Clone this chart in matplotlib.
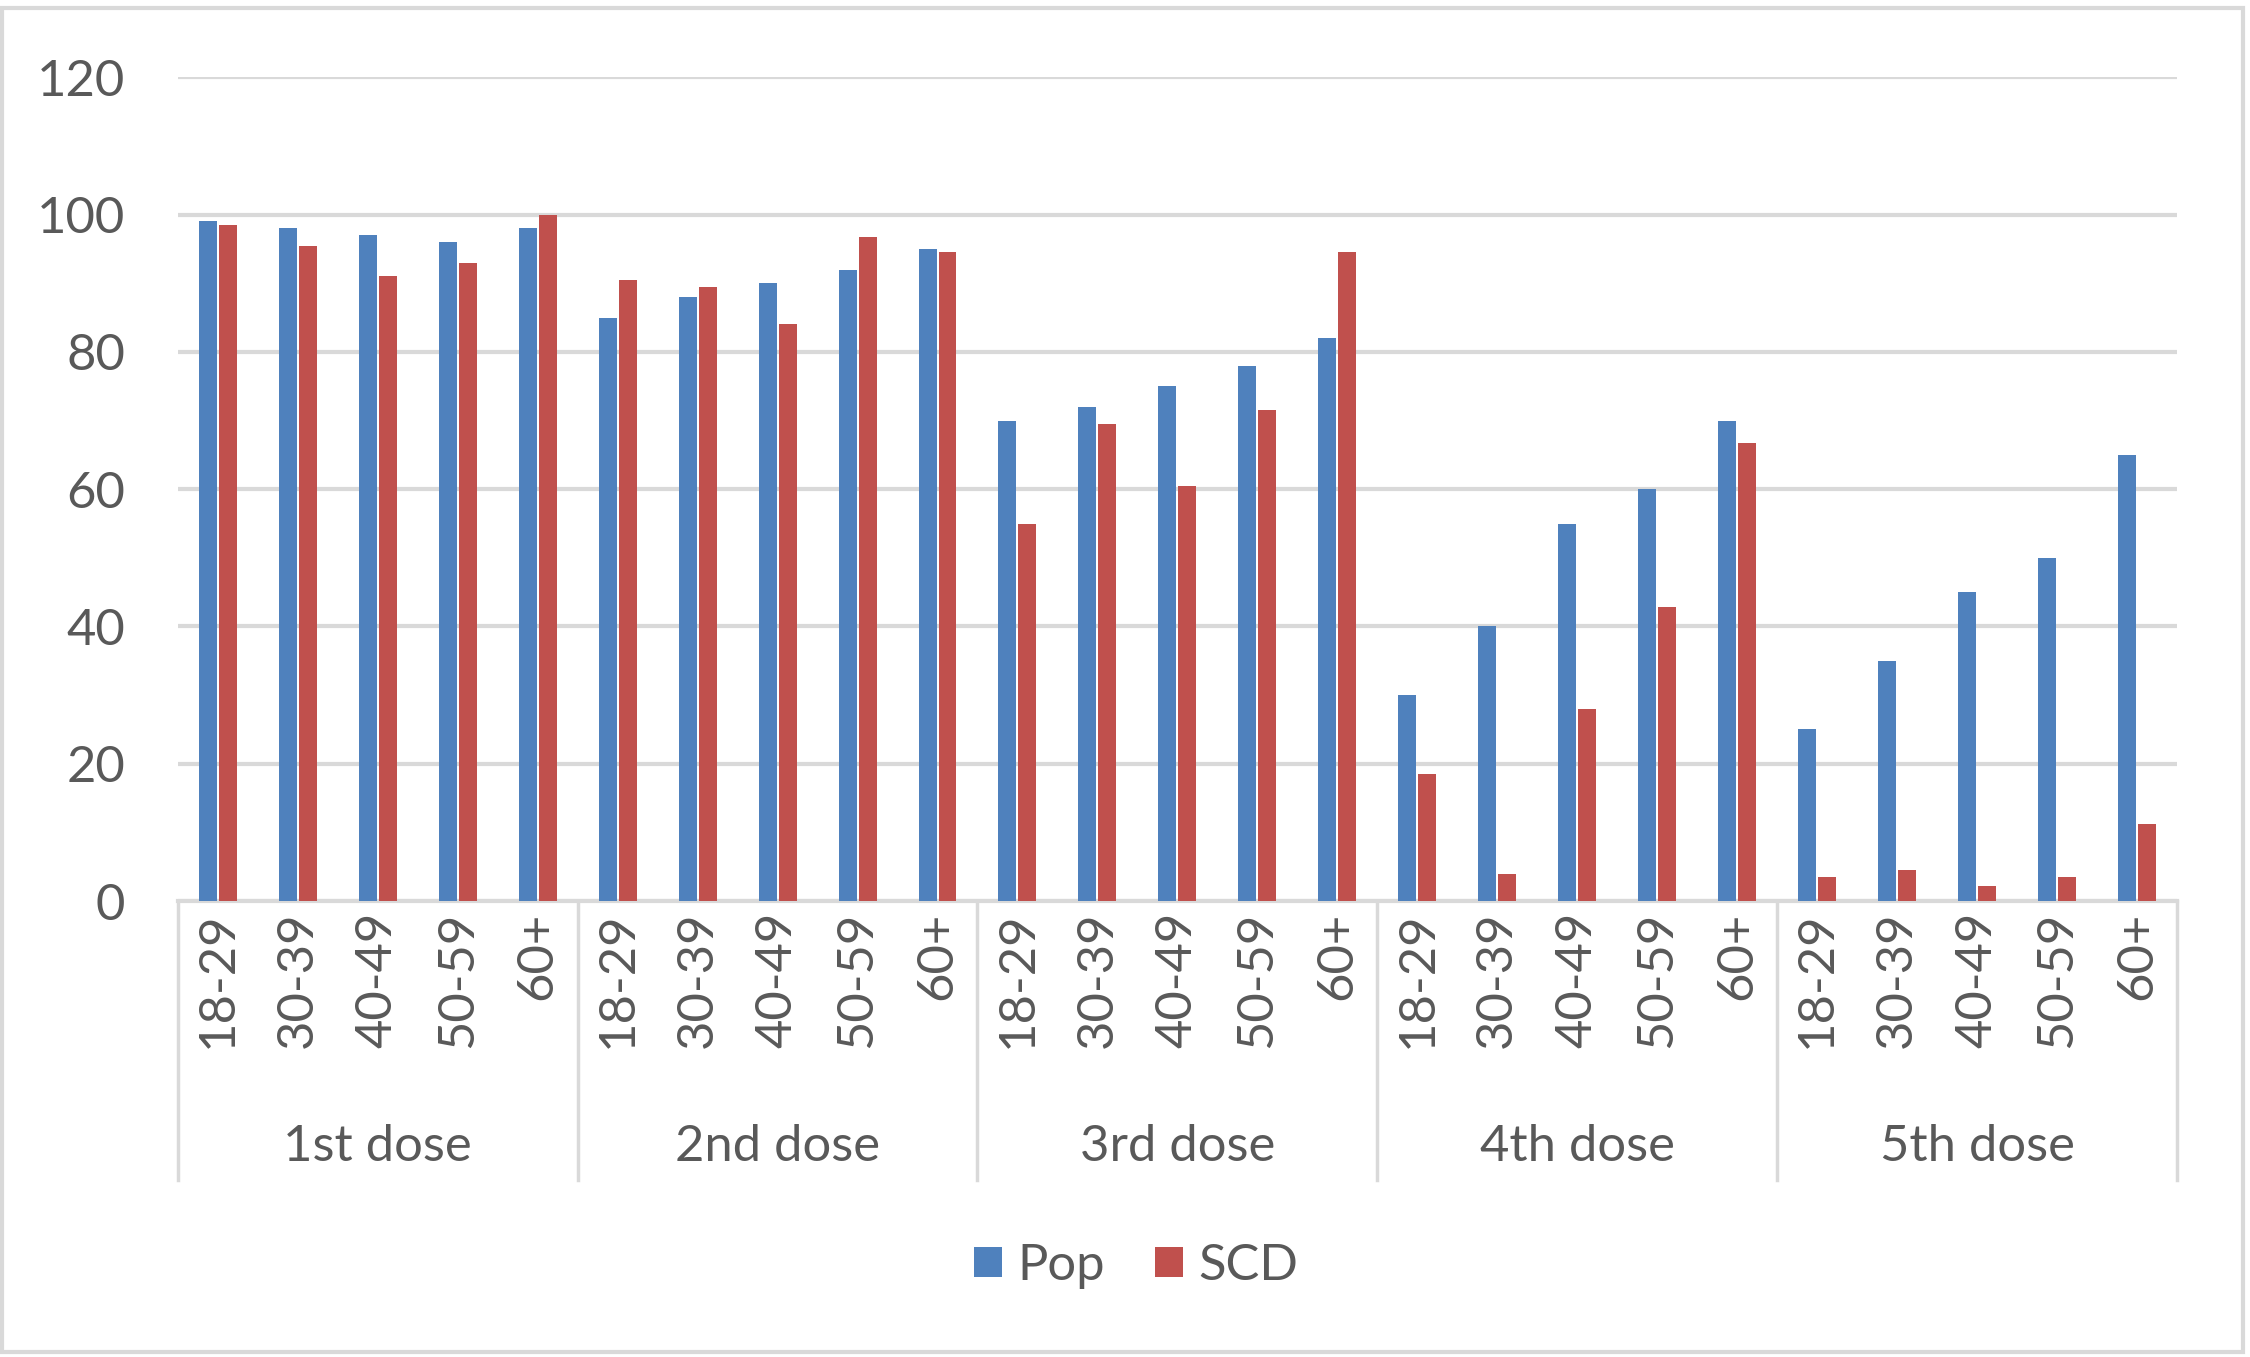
import matplotlib
matplotlib.use("Agg")
import matplotlib.pyplot as plt
from matplotlib.patches import Rectangle
from matplotlib.transforms import blended_transform_factory
import numpy as np

doses = ["1st dose", "2nd dose", "3rd dose", "4th dose", "5th dose"]
ages = ["18-29", "30-39", "40-49", "50-59", "60+"]
pop = [99, 98, 97, 96, 98,
       85, 88, 90, 92, 95,
       70, 72, 75, 78, 82,
       30, 40, 55, 60, 70,
       25, 35, 45, 50, 65]
scd = [98.5, 95.5, 91, 93, 100,
       90.5, 89.5, 84, 96.8, 94.5,
       55, 69.5, 60.5, 71.5, 94.5,
       18.5, 4, 28, 42.8, 66.8,
       3.5, 4.5, 2.2, 3.5, 11.2]

BLUE = "#4F81BD"
RED = "#C0504D"
GRID = "#D9D9D9"
TXT = "#595959"
FONT = "Lato"
FS = 36.5

plt.rcParams['font.family'] = [FONT, 'DejaVu Sans']

fig = plt.figure(figsize=(22.5, 13.57), dpi=100)
ax = fig.add_axes([0.079, 0.336, 0.8886, 0.607])

n = len(pop)
x = np.arange(n)
w = 0.225
ax.bar(x - 0.125, pop, width=w, color=BLUE, label="Pop", zorder=3)
ax.bar(x + 0.125, scd, width=w, color=RED, label="SCD", zorder=3)

ax.set_xlim(-0.5, n - 0.5)
ax.set_ylim(0, 120)
ax.set_yticks(range(0, 121, 20))
ax.yaxis.grid(True, color=GRID, linewidth=3, zorder=0)
ax.set_axisbelow(True)
for s in ["top", "right", "left"]:
    ax.spines[s].set_visible(False)
ax.spines["bottom"].set_color(GRID)
ax.spines["bottom"].set_linewidth(3)
ax.tick_params(axis='y', length=0, pad=38, labelsize=FS, labelcolor=TXT)
ax.tick_params(axis='x', length=0, labelbottom=False)
for lab in ax.get_yticklabels():
    lab.set_fontfamily(FONT)

trans = blended_transform_factory(ax.transData, ax.transAxes)
# age labels
for i in range(n):
    ax.text(x[i], -0.013, ages[i % len(ages)], rotation=90, ha='center', va='top',
            fontsize=FS, color=TXT, transform=trans, family=FONT)
# group separators and labels
ng = len(doses)
per = len(ages)
for g in range(ng + 1):
    xv = g * per - 0.5
    ax.plot([xv, xv], [0, -0.339], color=GRID, lw=2.5, transform=trans, clip_on=False)
for g, d in enumerate(doses):
    xc = g * per + (per - 1) / 2
    ax.text(xc, -0.298, d, ha='center', va='center', fontsize=FS, color=TXT,
            transform=trans, family=FONT)

leg = fig.legend(loc='center', bbox_to_anchor=(0.505, 0.067), ncol=2, frameon=False,
                 fontsize=FS, handlelength=0.55, handleheight=0.55, handletextpad=0.3,
                 columnspacing=1.0, prop={'family': FONT, 'size': FS})
for t in leg.get_texts():
    t.set_color(TXT)

fig.patches.append(Rectangle((0.001, 0.004), 0.996, 0.99, transform=fig.transFigure,
                             fill=False, edgecolor=GRID, linewidth=3))

fig.savefig("out.png", dpi=100, facecolor="white")
